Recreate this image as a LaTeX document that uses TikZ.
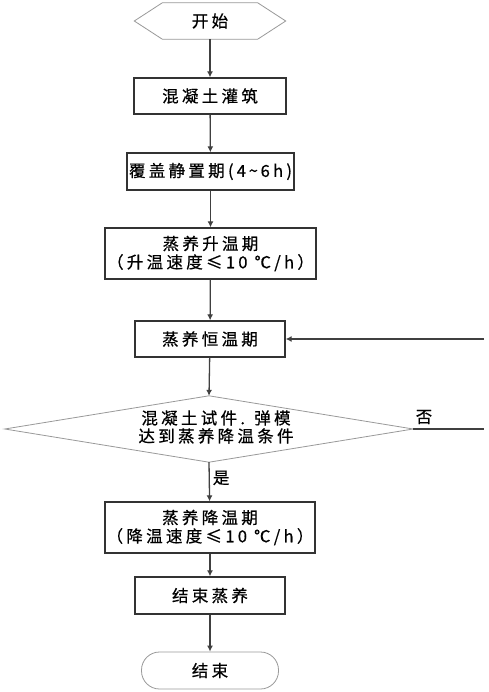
\documentclass[tikz,border=0pt]{standalone}
\usepackage{fontspec}
\setmainfont{Noto Sans CJK SC}[LetterSpace=20,FakeBold=0.6]
\usetikzlibrary{arrows.meta}
\begin{document}
\begin{tikzpicture}[x=1pt,y=-1pt,
  every node/.style={font=\fontsize{16.5}{19.5}\selectfont, inner sep=0pt},
  procbox/.style={draw=black!80, line width=1.3pt, minimum height=36pt, align=center},
  ghost/.style={draw=none, align=center},
  conn/.style={draw=black!75, line width=1.3pt, -{Latex[length=6pt,width=6pt]}},
  plainline/.style={draw=black!75, line width=1.3pt},
  thinshape/.style={draw=black!40, line width=0.8pt}]
\useasboundingbox (0,0) rectangle (488,692);
\fill[white] (0,0) rectangle (488,692);

\node[ghost, minimum width=151pt, minimum height=36pt] (start) at (210,21) {开始};
\draw[thinshape] (start.west) -- ([xshift=28pt]start.north west) -- ([xshift=-28pt]start.north east)
  -- (start.east) -- ([xshift=-28pt]start.south east) -- ([xshift=28pt]start.south west) -- cycle;

\node[procbox, minimum width=152pt] (b1) at (210,96) {混凝土灌筑};
\node[procbox, minimum width=167pt, minimum height=37pt] (b2) at (210.5,171.5) {覆盖静置期(4\,\textasciitilde\,6h)};
\node[procbox, minimum width=211pt, minimum height=51pt] (b3) at (210.5,253.5) {蒸养升温期\\[-1pt]（升温速度≤10 ℃/h）};
\node[procbox, minimum width=150pt] (b4) at (210,339) {蒸养恒温期};

\node[ghost, minimum width=408pt, minimum height=66pt] (dia) at (209,429) {};
\draw[thinshape] (dia.west) -- (dia.north) -- (dia.east) -- (dia.south) -- cycle;
\node[ghost, font=\fontsize{16.5}{18}\selectfont] (diatext) at (216,427) {混凝土试件. 弹模\\达到蒸养降温条件};

\node[procbox, minimum width=210pt, minimum height=51pt] (b5) at (210,527.5) {蒸养降温期\\[-1pt]（降温速度≤10 ℃/h）};
\node[procbox, minimum width=150pt, minimum height=37pt] (b6) at (210,595.5) {结束蒸养};
\node[thinshape, minimum width=137pt, minimum height=37pt, rounded corners=18pt] (end) at (210,670.5) {结束};

\coordinate (fbtop) at (484,339);
\coordinate (fbbot) at (484,429);

\draw[conn] (start) -- (b1);
\draw[conn] (b1) -- (b2);
\draw[conn] (b2) -- (b3);
\draw[conn] (b3) -- (b4);
\draw[conn] (b4) -- (dia.north);
\draw[conn] (dia.south) -- node[right=3pt, pos=0.4] (yes) {是} (b5);
\draw[conn] (b5) -- (b6);
\draw[conn] (b6) -- (end);
\draw[plainline] (dia.east) -- (fbbot);
\draw[conn] (fbtop) -- (b4.east);
\node (no) at (424,417) {否};
\end{tikzpicture}
\end{document}
